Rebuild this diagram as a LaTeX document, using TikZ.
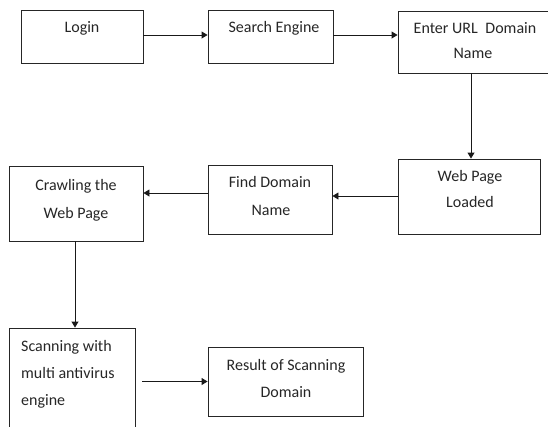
\documentclass[tikz,border=0pt]{standalone}
\usepackage{fontspec}
\setmainfont{Carlito}
\usetikzlibrary{arrows.meta}
\begin{document}
\begin{tikzpicture}[x=1pt,y=-1pt,
  box/.style={draw=black!85,line width=0.9pt,rectangle,inner sep=0pt},
  txt/.style={anchor=base,inner sep=0pt,font=\fontsize{16}{20}\selectfont,text=black!85},
  arr/.style={draw=black!90,line width=0.9pt,-{Triangle[length=6pt,width=7pt]}},
  plain/.style={draw=black!70,line width=0.9pt}]
\useasboundingbox (0,0) rectangle (548,426);
\clip (0,0) rectangle (548,426);

% boxes: centre, width, height
\node[box,minimum width=122pt,minimum height=53pt] (login)  at (82,36.5)   {};
\node[box,minimum width=125pt,minimum height=53pt] (search) at (270.5,36.5) {};
\node[box,minimum width=152pt,minimum height=62pt] (enter)  at (474,42)    {};
\node[box,minimum width=142pt,minimum height=75pt] (web)    at (469,196.5) {};
\node[box,minimum width=124pt,minimum height=69pt] (find)   at (270,199.5) {};
\node[box,minimum width=134pt,minimum height=75pt] (crawl)  at (76,203.5)  {};
\node[box,minimum width=126pt,minimum height=112pt] (scan)  at (72,384)    {};
\node[box,minimum width=155pt,minimum height=69pt] (result) at (285.5,381.5) {};

% labels
\node[txt] (loginA)  at (82,32)  {Login};
\node[txt] (searchA) at (274,32) {Search Engine};
\node[txt] (enterA)  at (475,33) {Enter URL\hspace{0.25em} Domain};
\node[txt] (enterB)  at (473,58) {Name};
\node[txt] (webA)    at (470,181) {Web Page};
\node[txt] (webB)    at (470,207) {Loaded};
\node[txt] (findA)   at (270,187) {Find Domain};
\node[txt] (findB)   at (271,215) {Name};
\node[txt] (crawlA)  at (76,190) {Crawling the};
\node[txt] (crawlB)  at (76,218) {Web Page};
\node[txt,anchor=base west] (scanA) at (21,351) {Scanning with};
\node[txt,anchor=base west] (scanB) at (21,378) {multi antivirus};
\node[txt,anchor=base west] (scanC) at (21,405) {engine};
\node[txt] (resultA) at (286,370) {Result of Scanning};
\node[txt] (resultB) at (286,397) {Domain};

% connectors
\draw[arr] ([yshift=1.5pt]login.east) -- ([yshift=1.5pt]search.west);
\draw[arr] ([yshift=1.5pt]search.east) -- ([yshift=1.5pt]search.east -| enter.west);
\draw[arr] ([xshift=2pt]web.north |- enter.south) -- ([xshift=2pt]web.north);
\draw[arr] ([yshift=0.5pt]web.west) -- ([yshift=0.5pt]web.west -| find.east);
\draw[arr] ([yshift=6.5pt]find.west) -- ([yshift=6.5pt]find.west -| crawl.east);
\draw[arr] ([xshift=-1pt]crawl.south) -- ([xshift=-1pt]crawl.south |- scan.north);
\draw[arr] ([xshift=7pt]scan.east |- result.west) -- (result.west);
\end{tikzpicture}
\end{document}
